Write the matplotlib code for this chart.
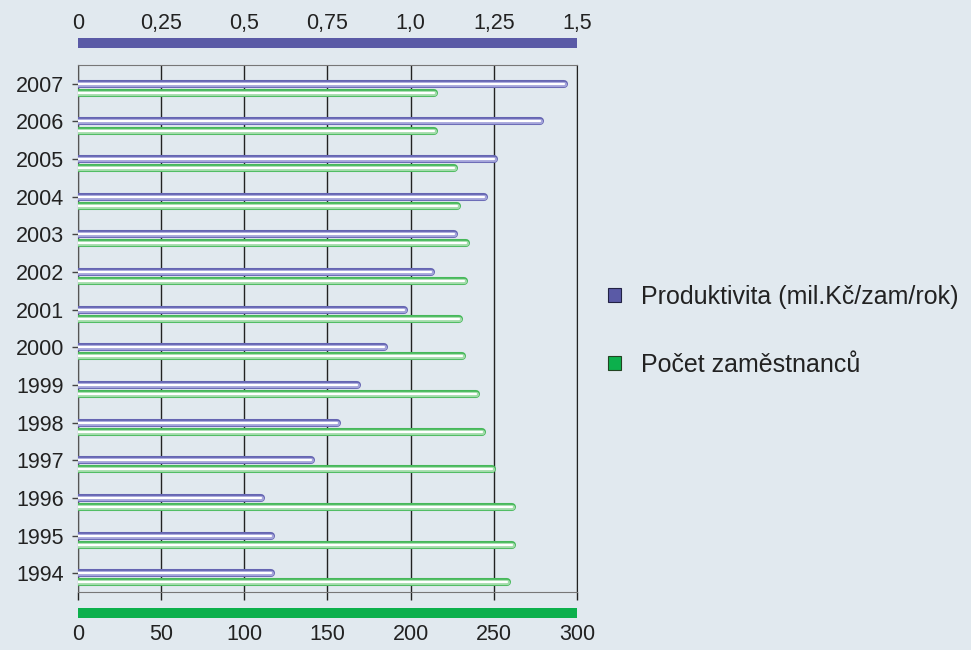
import numpy as np
import matplotlib.pyplot as plt
from matplotlib.patches import Patch

plt.rcParams['font.family'] = ['Liberation Sans', 'DejaVu Sans']

years = ['1994', '1995', '1996', '1997', '1998', '1999', '2000',
         '2001', '2002', '2003', '2004', '2005', '2006', '2007']
produktivita = [0.58, 0.58, 0.55, 0.70, 0.78, 0.84, 0.92,
                0.98, 1.06, 1.13, 1.22, 1.25, 1.39, 1.46]
zamestnanci = [258, 261, 261, 249, 243, 239, 231,
               229, 232, 233, 228, 226, 214, 214]
top_ticks = [0, 0.25, 0.5, 0.75, 1.0, 1.25, 1.5]
top_labels = ['0', '0,25', '0,5', '0,75', '1,0', '1,25', '1,5']
bottom_ticks = [0, 50, 100, 150, 200, 250, 300]

bg = '#e1e9ef'
blue = '#6565b2'
blue_light = '#a4a4da'
green = '#46b85a'
green_light = '#a2dcaa'

fig = plt.figure(figsize=(9.71, 6.5), dpi=100, facecolor=bg)
ax = fig.add_axes([0.0803, 0.0892, 0.5139, 0.8108])
ax.set_facecolor(bg)

y = np.arange(len(years))
ax.set_ylim(-0.5, len(years) - 0.5)
ax.set_xlim(0, 300)

# green bars (employees), slightly below category centre
yg = y - 0.24
ax.hlines(yg, 0, zamestnanci, color=green, lw=5.8, capstyle='round', zorder=3)
ax.hlines(yg, 0, zamestnanci, color=green_light, lw=3.8, capstyle='round', zorder=4)
ax.hlines(yg, 0, zamestnanci, color='white', lw=1.6, capstyle='round', zorder=5)

ax.set_xticks(bottom_ticks)
ax.set_xticklabels([])
ax.tick_params(axis='x', direction='out', length=6, width=1, color='#222222')
ax.set_yticks(y)
ax.set_yticklabels(years, fontsize=15.5, color='#222222')
ax.tick_params(axis='y', direction='out', length=4, width=1, color='#444444', pad=6)
ax.grid(axis='x', color='#222222', lw=1, zorder=1)
for s in ['top', 'bottom']:
    ax.spines[s].set_color('#777777')
ax.spines['left'].set_color('#555555')
ax.spines['right'].set_color('#222222')

# productivity axis on top
ax2 = ax.twiny()
ax2.set_xlim(0, 1.5)
ax2.set_ylim(ax.get_ylim())
ax2.hlines(y, 0, produktivita, color=blue, lw=5.8, capstyle='round', zorder=3)
ax2.hlines(y, 0, produktivita, color=blue_light, lw=3.8, capstyle='round', zorder=4)
ax2.hlines(y, 0, produktivita, color='white', lw=1.6, capstyle='round', zorder=5)
for s in ['bottom', 'left', 'right']:
    ax2.spines[s].set_visible(False)
ax2.spines['top'].set_position(('outward', 16))
ax2.spines['top'].set_color('#5a5aa6')
ax2.spines['top'].set_linewidth(7.2)
ax2.spines['top'].set_capstyle('butt')
ax2.set_xticks(top_ticks)
ax2.set_xticklabels(top_labels, fontsize=15.5, color='#222222')
ax2.tick_params(axis='x', length=0, pad=6)

# employees band at bottom
sec = ax.secondary_xaxis(-0.040)
sec.spines['bottom'].set_color('#0cb04c')
sec.spines['bottom'].set_linewidth(7.2)
sec.spines['bottom'].set_capstyle('butt')
sec.set_xticks(bottom_ticks)
sec.set_xticklabels([str(t) for t in bottom_ticks], fontsize=15.5, color='#222222')
sec.tick_params(axis='x', length=0, pad=8)

handles = [Patch(facecolor='#5a5aa6', edgecolor='#222244', lw=0.8),
           Patch(facecolor='#0cb04c', edgecolor='#224422', lw=0.8)]
fig.legend(handles, ['Produktivita (mil.Kč/zam/rok)', 'Počet zaměstnanců'],
           loc='center left', bbox_to_anchor=(0.603, 0.491), frameon=False,
           fontsize=18, handlelength=0.5, handleheight=0.5, handletextpad=0.8,
           labelspacing=1.78, labelcolor='#222222')

fig.savefig('out.png', dpi=100, facecolor=bg)
